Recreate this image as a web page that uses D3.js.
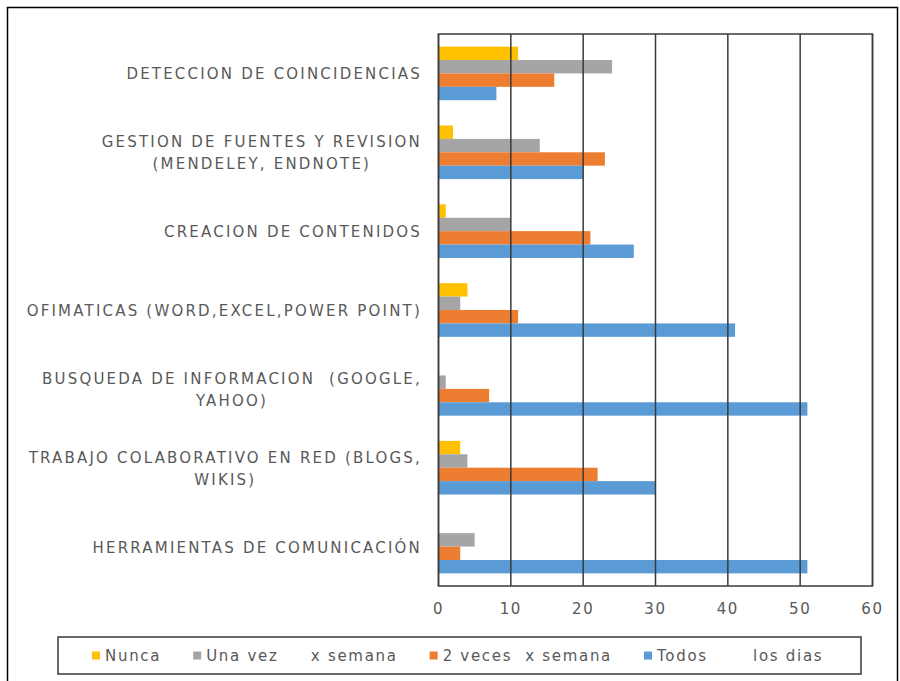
<!DOCTYPE html>
<html>
<head>
<meta charset="utf-8">
<script src="https://cdn.jsdelivr.net/npm/d3@7"></script>
<style>
  html, body { margin: 0; padding: 0; background: #fff; }
  svg text { font-family: "DejaVu Sans", Verdana, sans-serif; fill: #595959; }
</style>
</head>
<body>
<svg id="chart" width="900" height="681"></svg>
<script>
// categories, top to bottom (lines split where the original wraps)
const categories = [
  "DETECCION DE COINCIDENCIAS",
  "GESTION DE FUENTES Y REVISION\n(MENDELEY, ENDNOTE)",
  "CREACION DE CONTENIDOS",
  "OFIMATICAS (WORD,EXCEL,POWER POINT)",
  "BUSQUEDA DE INFORMACION  (GOOGLE,\nYAHOO)",
  "TRABAJO COLABORATIVO EN RED (BLOGS,\nWIKIS)",
  "HERRAMIENTAS DE COMUNICACIÓN"
];
const seriesNames = ["Nunca", "Una vez     x semana", "2 veces  x semana", "Todos       los dias"];
const seriesColors = ["#FFC000", "#A5A5A5", "#ED7D31", "#5B9BD5"];
const nunca   = [11, 2, 1, 4, 0, 3, 0];
const unaVez  = [24, 14, 10, 3, 1, 4, 5];
const dosVeces = [16, 23, 21, 11, 7, 22, 3];
const todos   = [8, 20, 27, 41, 51, 30, 51];
const xTicks = [0, 10, 20, 30, 40, 50, 60];

const seriesValues = [nunca, unaVez, dosVeces, todos];

const svg = d3.select("#chart");
const plot = { left: 438.5, right: 872.5, top: 34, bottom: 586 };
const labelRight = 422;
const fontSize = 15;
const spacing = 1.6;
const labelSpacing = 2.2;

// outer frame
svg.append("rect")
  .attr("x", 7.5).attr("y", 7.5)
  .attr("width", 890).attr("height", 690)
  .attr("fill", "none")
  .attr("stroke", "#000")
  .attr("stroke-width", 1.5);

const x = d3.scaleLinear().domain([0, 60]).range([plot.left, plot.right]);
const y = d3.scaleBand().domain(d3.range(categories.length)).range([plot.top, plot.bottom]);
const ySub = d3.scaleBand().domain(d3.range(seriesNames.length)).range([0, y.bandwidth()]).paddingOuter(0.94);

// bars
const barData = [];
categories.forEach((c, i) => {
  seriesValues.forEach((vals, s) => barData.push({ cat: i, s, v: vals[i] }));
});

svg.append("g")
  .selectAll("rect")
  .data(barData.filter(d => d.v > 0))
  .enter()
  .append("rect")
  .attr("x", x(0))
  .attr("y", d => y(d.cat) + ySub(d.s))
  .attr("width", d => x(d.v) - x(0))
  .attr("height", ySub.bandwidth())
  .attr("fill", d => seriesColors[d.s]);

// gridlines (drawn on top, like the original)
svg.append("g")
  .selectAll("line")
  .data(xTicks)
  .enter()
  .append("line")
  .attr("x1", d => x(d)).attr("x2", d => x(d))
  .attr("y1", plot.top).attr("y2", plot.bottom)
  .attr("stroke", "#3a3a3a")
  .attr("stroke-width", 1.5);

svg.append("rect")
  .attr("x", plot.left).attr("y", plot.top)
  .attr("width", plot.right - plot.left).attr("height", plot.bottom - plot.top)
  .attr("fill", "none")
  .attr("stroke", "#3a3a3a")
  .attr("stroke-width", 1.5);

// x tick labels
svg.append("g")
  .selectAll("text")
  .data(xTicks)
  .enter()
  .append("text")
  .attr("x", d => x(d))
  .attr("y", 614)
  .attr("text-anchor", "middle")
  .attr("font-size", fontSize)
  .attr("letter-spacing", spacing)
  .text(d => d);

// category labels: lines centred on each other, block right-aligned
const lineH = 22;
categories.forEach((c, i) => {
  const lines = c.split("\n");
  const g = svg.append("g");
  const texts = lines.map((ln, k) => g.append("text")
    .attr("y", y(i) + y.bandwidth() / 2 + (k - (lines.length - 1) / 2) * lineH + 6)
    .attr("font-size", fontSize)
    .attr("letter-spacing", labelSpacing)
    .attr("text-anchor", "middle")
    .style("white-space", "pre")
    .text(ln));
  const maxW = d3.max(texts, t => t.node().getComputedTextLength());
  texts.forEach(t => t.attr("x", labelRight - maxW / 2));
});

// legend
const legend = { left: 58, right: 861, top: 637, bottom: 674 };
svg.append("rect")
  .attr("x", legend.left).attr("y", legend.top)
  .attr("width", legend.right - legend.left).attr("height", legend.bottom - legend.top)
  .attr("fill", "#fff")
  .attr("stroke", "#3a3a3a")
  .attr("stroke-width", 1.5);

let lx = 92;
const ly = (legend.top + legend.bottom) / 2;
seriesNames.forEach((name, s) => {
  svg.append("rect")
    .attr("x", lx).attr("y", ly - 4)
    .attr("width", 8).attr("height", 8)
    .attr("fill", seriesColors[s]);
  const t = svg.append("text")
    .attr("x", lx + 13)
    .attr("y", ly + 5)
    .attr("font-size", fontSize)
    .attr("letter-spacing", 1.7)
    .style("white-space", "pre")
    .text(name);
  lx += 13 + t.node().getComputedTextLength() + 32;
});
</script>
</body>
</html>
